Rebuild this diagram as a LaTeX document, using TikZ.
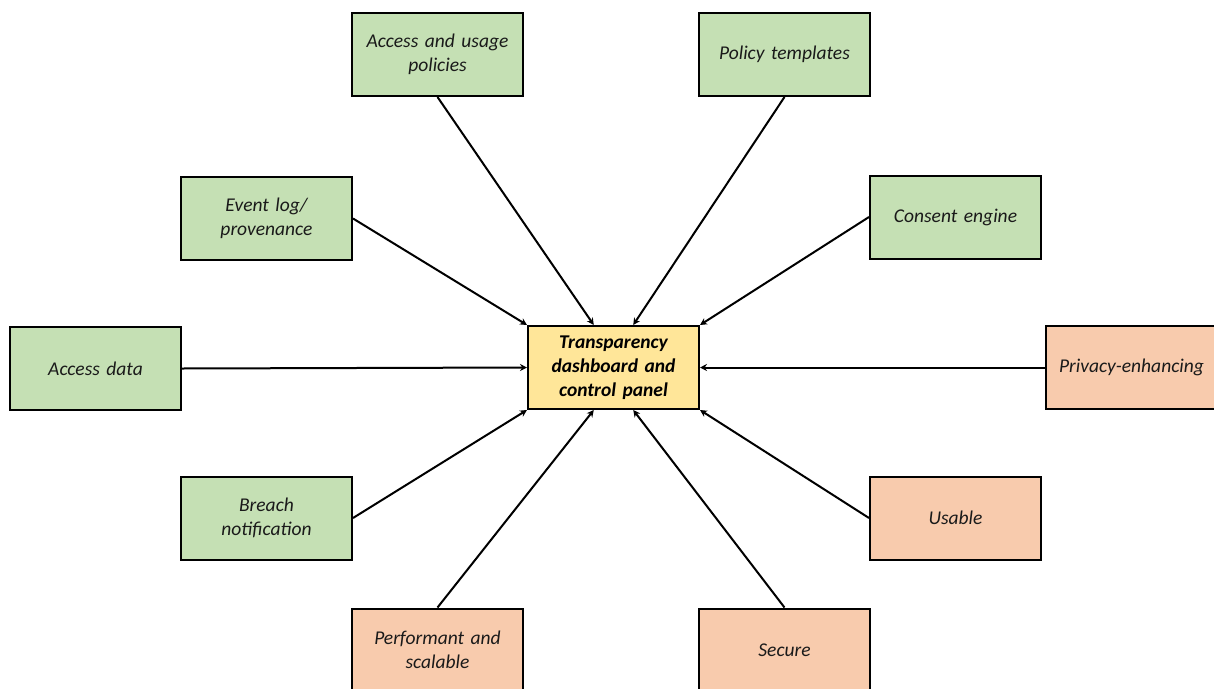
\documentclass[tikz,border=0pt]{standalone}
\usepackage{fontspec}
\setmainfont{Carlito}
\usetikzlibrary{arrows.meta,calc}
\definecolor{gfill}{HTML}{C5E0B4}
\definecolor{ofill}{HTML}{F8CBAD}
\definecolor{yfill}{HTML}{FFE699}
\definecolor{txt}{HTML}{1A1A1A}
\tikzset{
  box/.style={draw=black, line width=2pt, minimum width=171pt, minimum height=83pt,
    inner sep=0pt, text width=160pt, align=center, text=txt,
    font=\fontsize{19.5}{24}\selectfont\itshape},
  gbox/.style={box, fill=gfill},
  obox/.style={box, fill=ofill},
  cbox/.style={box, fill=yfill, text=black, font=\fontsize{19.5}{24}\selectfont\bfseries\itshape},
  conn/.style={line width=2pt, -{Stealth[length=7pt,width=7pt]}}
}
\begin{document}
\begin{tikzpicture}[x=1pt,y=-1pt]
\useasboundingbox (0,0) rectangle (1214,688);
\clip (0,0) rectangle (1214,688);
\node[cbox] (c) at (613.5,367.5) {Transparency\\dashboard and\\control panel};
\node[gbox] (au) at (437.5,54.5) {Access and usage\\policies};
\node[gbox] (pt) at (784.5,54.5) {Policy templates};
\node[gbox] (ev) at (266.5,218.5) {Event log/\\provenance};
\node[gbox] (ce) at (955.5,217) {Consent engine};
\node[gbox] (ad) at (95.5,368.5) {Access data};
\node[obox] (pe) at (1131.5,367.5) {Privacy-enhancing};
\node[gbox] (bn) at (266.5,518) {Breach\\notification};
\node[obox] (us) at (955.5,518) {Usable};
\node[obox] (ps) at (437.5,650) {Performant and\\scalable};
\node[obox] (se) at (784.5,650) {Secure};
\draw[conn] (au.south) -- ($(c.north west)!0.386!(c.north east)$);
\draw[conn] (pt.south) -- ($(c.north west)!0.614!(c.north east)$);
\draw[conn] (ev.east) -- (c.north west);
\draw[conn] (ce.west) -- (c.north east);
\draw[conn] (ad.east) -- (c.west);
\draw[conn] (pe.west) -- (c.east);
\draw[conn] (bn.east) -- (c.south west);
\draw[conn] (us.west) -- (c.south east);
\draw[conn] (ps.north) -- ($(c.south west)!0.386!(c.south east)$);
\draw[conn] (se.north) -- ($(c.south west)!0.614!(c.south east)$);
\end{tikzpicture}
\end{document}
